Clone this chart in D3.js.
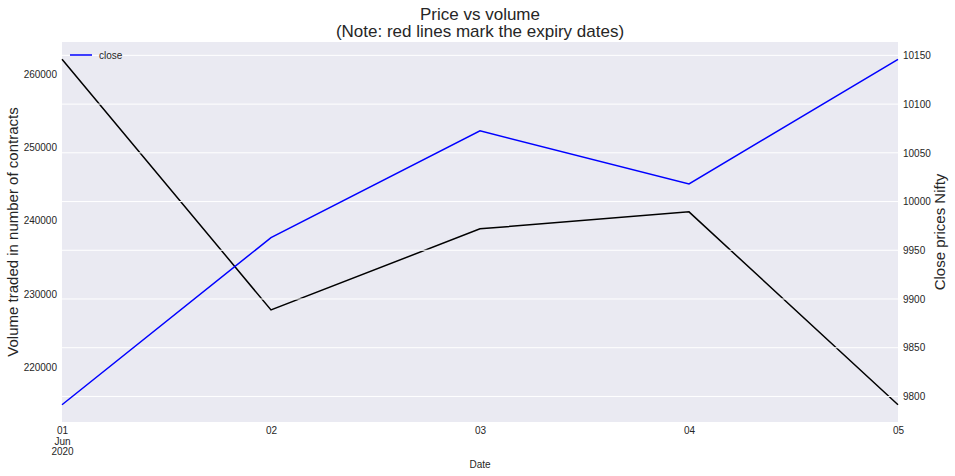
<!DOCTYPE html>
<html><head><meta charset="utf-8">
<script src="https://cdn.jsdelivr.net/npm/d3@7"></script>
<style>body{margin:0;background:#fff}svg{display:block}text{font-family:"Liberation Sans",Arial,sans-serif;fill:#262626}</style>
</head><body>
<svg id="c" width="955" height="476"></svg>
<script>
const dates = ["2020-06-01","2020-06-02","2020-06-03","2020-06-04","2020-06-05"];
const volume = [262050, 227800, 238880, 241200, 214850];
const close = [9791.5, 9963, 10072.5, 10018, 10146];
const volumeTicks = [220000, 230000, 240000, 250000, 260000];
const closeTicks = [9800, 9850, 9900, 9950, 10000, 10050, 10100, 10150];
const xTickLabels = [["01","Jun","2020"],["02"],["03"],["04"],["05"]];

const svg = d3.select("#c");
const L = 62, R = 898, T = 42, B = 422;
const parse = d3.utcParse("%Y-%m-%d");
const xd = dates.map(parse);
const x = d3.scaleUtc().domain(d3.extent(xd)).range([L, R]);
function padded(vals){const [a,b]=d3.extent(vals);const m=(b-a)*0.05;return [a-m,b+m];}
const yL = d3.scaleLinear().domain(padded(volume)).range([B, T]);
const yR = d3.scaleLinear().domain(padded(close)).range([B, T]);

svg.append("rect").attr("x",L).attr("y",T).attr("width",R-L).attr("height",B-T).attr("fill","#EAEAF2");

// volume line (left axis, drawn below grid of right axis)
svg.append("path").datum(volume).attr("fill","none").attr("stroke","#000").attr("stroke-width",1.5)
  .attr("d", d3.line().x((d,i)=>x(xd[i])).y(d=>yL(d)));

// grid from right axis
svg.append("g").selectAll("line").data(closeTicks).join("line")
  .attr("x1",L).attr("x2",R).attr("y1",d=>yR(d)).attr("y2",d=>yR(d))
  .attr("stroke","#fff").attr("stroke-width",1);

svg.append("path").datum(close).attr("fill","none").attr("stroke","#0000ff").attr("stroke-width",1.5)
  .attr("d", d3.line().x((d,i)=>x(xd[i])).y(d=>yR(d)));

// axes
const axL = d3.axisLeft(yL).tickValues(volumeTicks).tickSize(0).tickPadding(5).tickFormat(d3.format("d"));
const gL = svg.append("g").attr("transform",`translate(${L},0)`).call(axL);
const axR = d3.axisRight(yR).tickValues(closeTicks).tickSize(0).tickPadding(5).tickFormat(d3.format("d"));
const gR = svg.append("g").attr("transform",`translate(${R},0)`).call(axR);
const axX = d3.axisBottom(x).tickValues(xd).tickSize(0).tickFormat(()=> "");
const gX = svg.append("g").attr("transform",`translate(0,${B})`).call(axX);
[gL,gR,gX].forEach(g=>{g.select(".domain").remove();g.selectAll("text").style("font-family",'"Liberation Sans",Arial,sans-serif').style("font-size","10px").attr("fill","#262626");});
gX.selectAll(".tick").each(function(d,i){
  const t = d3.select(this).append("text").attr("text-anchor","middle").attr("fill","#262626")
    .style("font-size","10px").style("font-family",'"Liberation Sans",Arial,sans-serif');
  xTickLabels[i].forEach((s,j)=>t.append("tspan").attr("x",0).attr("y",12+j*10.5).text(s));
});

svg.append("text").attr("x",(L+R)/2).attr("y",468).attr("text-anchor","middle").style("font-size","10px").text("Date");
svg.append("text").attr("transform",`translate(18,${(T+B)/2}) rotate(-90)`).attr("text-anchor","middle").style("font-size","15px").text("Volume traded in number of contracts");
svg.append("text").attr("transform",`translate(945,${(T+B)/2}) rotate(-90)`).attr("text-anchor","middle").style("font-size","15px").text("Close prices Nifty");

svg.append("text").attr("x",(L+R)/2).attr("y",20).attr("text-anchor","middle").style("font-size","17px").text("Price vs volume");
svg.append("text").attr("x",(L+R)/2).attr("y",37).attr("text-anchor","middle").style("font-size","17px").text("(Note: red lines mark the expiry dates)");

// legend
svg.append("line").attr("x1",70).attr("x2",92).attr("y1",55).attr("y2",55).attr("stroke","#0000ff").attr("stroke-width",1.5);
svg.append("text").attr("x",99).attr("y",59).style("font-size","10px").text("close");
</script>
</body></html>
